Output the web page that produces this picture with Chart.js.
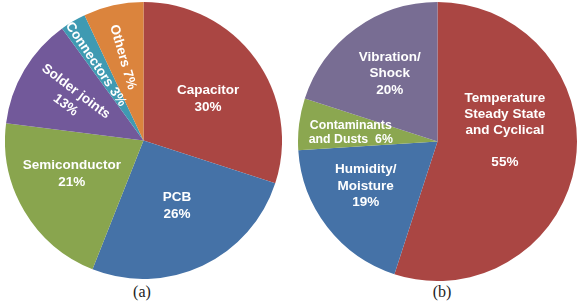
<!DOCTYPE html>
<html>
<head>
<meta charset="utf-8">
<script src="https://cdn.jsdelivr.net/npm/chart.js@4.4.1/dist/chart.umd.min.js"></script>
<style>
  html, body { margin: 0; padding: 0; background: #ffffff; }
  body { width: 581px; height: 307px; position: relative; overflow: hidden; }
  .pie { position: absolute; }
  #wrapA { left: 5px; top: 2px; width: 277px; height: 277px; }
  #wrapB { left: 298px; top: 2px; width: 279px; height: 279px; }
  .cap { position: absolute; top: 283px; font-family: "Liberation Serif", "DejaVu Serif", serif; font-size: 16px; color: #222; transform: translateX(-50%); }
</style>
</head>
<body>
<div class="pie" id="wrapA"><canvas id="chartA"></canvas></div>
<div class="pie" id="wrapB"><canvas id="chartB"></canvas></div>
<div class="cap" id="capA" style="left:142px">(a)</div>
<div class="cap" id="capB" style="left:442px">(b)</div>
<script>
// ---- data (a): failure distribution by component ----
const categoriesA = ['Capacitor', 'PCB', 'Semiconductor', 'Solder joints', 'Connectors', 'Others'];
const valuesA = [30, 26, 21, 13, 3, 7];
const labelLinesA = [
  ['Capacitor', '30%'],
  ['PCB', '26%'],
  ['Semiconductor', '21%'],
  ['Solder joints', '13%'],
  ['Connectors 3%'],
  ['Others 7%']
];
// ---- data (b): failure distribution by stress ----
const categoriesB = ['Temperature Steady State and Cyclical', 'Humidity/ Moisture', 'Contaminants and Dusts', 'Vibration/ Shock'];
const valuesB = [55, 19, 6, 20];
const labelLinesB = [
  ['Temperature', 'Steady State', 'and Cyclical', '', '55%'],
  ['Humidity/', 'Moisture', '19%'],
  ['Contaminants', 'and Dusts  6%'],
  ['Vibration/', 'Shock', '20%']
];

const colorsA = ['#AA4643', '#4572A7', '#89A54E', '#72599A', '#3F9AB2', '#DB843D'];
const colorsB = ['#AA4643', '#4572A7', '#8BA750', '#786D93'];

// label placement styles: angle offset (deg) from slice middle, radius fraction, rotation (deg, null = none), line height, font size
const placeA = [
  { dA: 3, f: 0.556, rot: null, lh: 17, fs: 13.5 },
  { dA: -2, f: 0.53, rot: null, lh: 17, fs: 13.5 },
  { dA: 5.5, f: 0.572, rot: null, lh: 17, fs: 13.5 },
  { dA: -0.5, f: 0.607, rot: 37, lh: 17, fs: 13.5 },
  { dA: -1.4, f: 0.649, rot: 56, lh: 17, fs: 13.5 },
  { dA: -1.3, f: 0.62, rot: 74, lh: 17, fs: 13.5 }
];
const placeB = [
  { dA: -18.7, f: 0.49, rot: null, lh: 16, fs: 13.5 },
  { dA: 5.9, f: 0.606, rot: null, lh: 16.5, fs: 13.5 },
  { dA: -1.2, f: 0.625, rot: null, lh: 14, fs: 12.3 },
  { dA: 0.9, f: 0.594, rot: null, lh: 16.5, fs: 13.5 }
];

const sliceLabels = {
  id: 'sliceLabels',
  afterDatasetsDraw(chart, args, opts) {
    const ctx = chart.ctx;
    const meta = chart.getDatasetMeta(0);
    meta.data.forEach((arc, i) => {
      const p = arc.getProps(['x', 'y', 'startAngle', 'endAngle', 'outerRadius'], true);
      const pl = opts.place[i];
      const lines = opts.lines[i];
      const mid = (p.startAngle + p.endAngle) / 2 + pl.dA * Math.PI / 180;
      const r = p.outerRadius * pl.f;
      const cx = p.x + r * Math.cos(mid);
      const cy = p.y + r * Math.sin(mid);
      ctx.save();
      ctx.translate(cx, cy);
      if (pl.rot !== null) ctx.rotate(pl.rot * Math.PI / 180);
      ctx.fillStyle = '#ffffff';
      ctx.font = 'bold ' + pl.fs + 'px "Liberation Sans", Arial, sans-serif';
      ctx.textAlign = 'center';
      ctx.textBaseline = 'middle';
      const n = lines.length;
      lines.forEach((t, k) => {
        ctx.fillText(t, 0, (k - (n - 1) / 2) * pl.lh);
      });
      ctx.restore();
    });
  }
};

function makePie(id, cats, vals, cols, lines, place) {
  return new Chart(document.getElementById(id), {
    type: 'pie',
    data: {
      labels: cats,
      datasets: [{ data: vals, backgroundColor: cols, borderWidth: 0 }]
    },
    options: {
      responsive: true,
      maintainAspectRatio: false,
      animation: false,
      layout: { padding: 0 },
      plugins: {
        legend: { display: false },
        tooltip: { enabled: false },
        sliceLabels: { lines: lines, place: place }
      }
    },
    plugins: [sliceLabels]
  });
}

makePie('chartA', categoriesA, valuesA, colorsA, labelLinesA, placeA);
makePie('chartB', categoriesB, valuesB, colorsB, labelLinesB, placeB);
</script>
</body>
</html>
